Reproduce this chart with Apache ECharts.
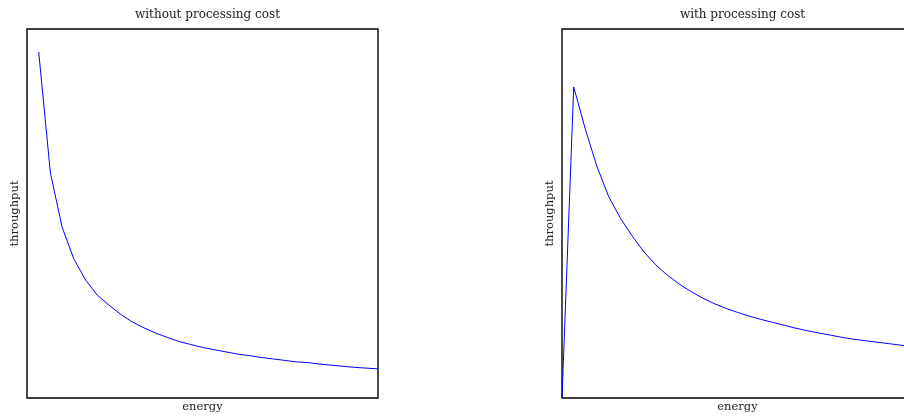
<!DOCTYPE html>
<html>
<head>
<meta charset="utf-8">
<script src="https://cdn.jsdelivr.net/npm/echarts@6/dist/echarts.min.js"></script>
<style>
  html, body { margin: 0; padding: 0; background: #fff; }
  #chart { width: 904px; height: 417px; }
</style>
</head>
<body>
<div id="chart"></div>
<script>
// Energy levels (x) and normalised throughput for each model
const energyNoCost = [1, 2, 3, 4, 5, 6, 7, 8, 9, 10, 11, 12, 13, 14, 15,
  16, 17, 18, 19, 20, 21, 22, 23, 24, 25, 26, 27, 28, 29, 30];
const throughputNoCost = [0.938, 0.610, 0.463, 0.377, 0.320, 0.279, 0.252, 0.227,
  0.206, 0.190, 0.176, 0.164, 0.153, 0.145, 0.137, 0.131, 0.125, 0.119, 0.115,
  0.110, 0.106, 0.102, 0.098, 0.096, 0.092, 0.089, 0.086, 0.083, 0.081, 0.079];

const energyWithCost = [0, 1, 2, 3, 4, 5, 6, 7, 8, 9, 10, 11, 12, 13, 14, 15,
  16, 17, 18, 19, 20, 21, 22, 23, 24, 25, 26, 27, 28, 29, 30];
const throughputWithCost = [0, 0.843, 0.728, 0.626, 0.545, 0.487, 0.439, 0.396,
  0.361, 0.333, 0.309, 0.289, 0.271, 0.256, 0.243, 0.232, 0.222, 0.213, 0.205,
  0.197, 0.189, 0.182, 0.176, 0.170, 0.164, 0.159, 0.155, 0.151, 0.147, 0.143, 0.139];

const panelTitles = ['without processing cost', 'with processing cost'];
const xName = 'energy';
const yName = 'throughput';

const serif = 'DejaVu Serif';
const textColor = '#222';

function zip(xs, ys) { return xs.map((x, i) => [x, ys[i]]); }

const grids = [
  { left: 27, top: 29, width: 351, height: 369 },
  { left: 562, top: 29, width: 351, height: 369 }
].map(g => Object.assign(g, {
  show: true, borderColor: '#000', borderWidth: 1.4, backgroundColor: 'transparent',
  outerBoundsMode: 'none', containLabel: false
}));

function xAxisFor(i) {
  return {
    gridIndex: i, type: 'value', min: 0, max: 30,
    name: xName, nameLocation: 'middle', nameGap: 3,
    nameTextStyle: { fontFamily: serif, fontSize: 11.5, color: textColor },
    axisLine: { show: false }, axisTick: { show: false },
    axisLabel: { show: false }, splitLine: { show: false }
  };
}
function yAxisFor(i) {
  return {
    gridIndex: i, type: 'value', min: 0, max: 1,
    name: yName, nameLocation: 'middle', nameGap: 6,
    nameTextStyle: { fontFamily: serif, fontSize: 11.5, color: textColor },
    axisLine: { show: false }, axisTick: { show: false },
    axisLabel: { show: false }, splitLine: { show: false }
  };
}

const chart = echarts.init(document.getElementById('chart'), null, { renderer: 'canvas' });
chart.setOption({
  animation: false,
  backgroundColor: '#fff',
  title: panelTitles.map((t, i) => ({
    text: t,
    left: grids[i].left + grids[i].width / 2,
    top: 4,
    textAlign: 'center',
    textStyle: { fontFamily: serif, fontSize: 12, fontWeight: 'normal', color: textColor }
  })),
  grid: grids,
  xAxis: [xAxisFor(0), xAxisFor(1)],
  yAxis: [yAxisFor(0), yAxisFor(1)],
  series: [
    { type: 'line', xAxisIndex: 0, yAxisIndex: 0, data: zip(energyNoCost, throughputNoCost) },
    { type: 'line', xAxisIndex: 1, yAxisIndex: 1, data: zip(energyWithCost, throughputWithCost) }
  ].map(s => Object.assign(s, {
    showSymbol: false, symbol: 'none',
    lineStyle: { color: '#0000ff', width: 1 }
  }))
});
</script>
</body>
</html>
